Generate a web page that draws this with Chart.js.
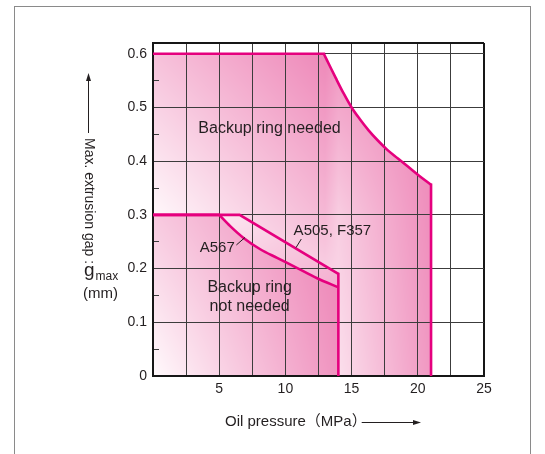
<!DOCTYPE html>
<html>
<head>
<meta charset="utf-8">
<script src="https://cdn.jsdelivr.net/npm/chart.js@4.4.1/dist/chart.umd.min.js"></script>
<style>
html,body{margin:0;padding:0;background:#fff;}
canvas{display:block;}
</style>
</head>
<body>
<canvas id="c" width="545" height="454"></canvas>
<script>
// ---------------- data ----------------
const xGridValues = [0, 2.5, 5, 7.5, 10, 12.5, 15, 17.5, 20, 22.5, 25];
const xTickValues = [5, 10, 15, 20, 25];
const xTickLabels = ['5', '10', '15', '20', '25'];
const yTickValues = [0, 0.1, 0.2, 0.3, 0.4, 0.5, 0.6];
const yTickLabels = ['0', '0.1', '0.2', '0.3', '0.4', '0.5', '0.6'];
const yMinorTickValues = [0.05, 0.15, 0.25, 0.35, 0.45, 0.55];
const xMin = 0, xMax = 25, yMin = 0, yMax = 0.62;

// "Backup ring needed" boundary
const needTopX = [0, 13.0];
const needTopY = [0.6, 0.6];
const needCurveX = [12.9, 13.3, 13.8, 14.4, 15.0, 15.6, 16.3, 17.0, 17.7, 18.5, 19.3, 20.1, 21];
const needCurveY = [0.6, 0.58, 0.555, 0.526, 0.5, 0.479, 0.457, 0.438, 0.421, 0.405, 0.389, 0.373, 0.356];
const needEdgeX = [21, 21];
const needEdgeY = [0.356, 0];

// A505, F357 boundary
const a505X = [0, 6.54, 14];
const a505Y = [0.3, 0.3, 0.19];
const a505EdgeX = [14, 14];
const a505EdgeY = [0.19, 0];

// A567 boundary
const a567TopX = [0, 5.05];
const a567TopY = [0.3, 0.3];
const a567CurveX = [5, 5.83, 6.84, 8.1, 9.37, 10.9, 12.4, 14];
const a567CurveY = [0.3, 0.279, 0.257, 0.236, 0.22, 0.201, 0.182, 0.165];

const xTitle = 'Oil pressure（MPa）';
const yTitle = 'Max. extrusion gap :';

// ---------------- style ----------------
const FONT = "'Liberation Sans', Arial, Helvetica, 'Noto Sans CJK JP', sans-serif";
const TEXT = '#231f20';
const LINE = '#e5007e';
const GRID = '#3c3c3c';
const FRAME = '#161616';
const C0 = [255, 250, 252], C1 = [237, 130, 181];

function seg(arr, v) {
  let i = 0;
  while (i < arr.length - 2 && v > arr[i + 1]) i++;
  let f = (v - arr[i]) / (arr[i + 1] - arr[i]);
  return [i, Math.max(0, Math.min(1, f))];
}
function bilinear(cols, rows, vals, x, y) {
  const [i, fx] = seg(cols, x);
  const [j, fy] = seg(rows, y);
  const a = vals[j][i] + (vals[j][i + 1] - vals[j][i]) * fx;
  const b = vals[j + 1][i] + (vals[j + 1][i + 1] - vals[j + 1][i]) * fx;
  return Math.max(0, Math.min(1, a + (b - a) * fy));
}
const shadeCache = {};
function shade(key, cols, rows, vals) {
  return (context) => {
    const chart = context.chart;
    const area = chart.chartArea;
    if (!area || !chart.scales.x || !chart.scales.y) return 'rgba(0,0,0,0)';
    const sig = key + [area.left, area.top, area.right, area.bottom].join(',');
    if (shadeCache[sig]) return shadeCache[sig];
    const W = Math.ceil(chart.width), H = Math.ceil(chart.height);
    const cv = document.createElement('canvas');
    cv.width = W; cv.height = H;
    const g = cv.getContext('2d');
    const img = g.createImageData(W, H);
    const xs = chart.scales.x, ys = chart.scales.y;
    for (let py = 0; py < H; py++) {
      const yv = ys.getValueForPixel(py + 0.5);
      for (let px = 0; px < W; px++) {
        const xv = xs.getValueForPixel(px + 0.5);
        const t = bilinear(cols, rows, vals, xv, yv);
        const k = (py * W + px) * 4;
        img.data[k] = C0[0] + (C1[0] - C0[0]) * t;
        img.data[k + 1] = C0[1] + (C1[1] - C0[1]) * t;
        img.data[k + 2] = C0[2] + (C1[2] - C0[2]) * t;
        img.data[k + 3] = 255;
      }
    }
    g.putImageData(img, 0, 0);
    const pat = chart.ctx.createPattern(cv, 'no-repeat');
    shadeCache[sig] = pat;
    return pat;
  };
}
const needShade = shade('need', [0, 13, 14, 21], [0, 0.3, 0.62],
  [[0, 0, 0.22, 0.82], [0.02, 0.55, 0.38, 0.9], [0.5, 0.97, 0.86, 0.97]]);
const a505Shade = shade('a505', [5, 14], [0.15, 0.3], [[0.4, 0.65], [0.15, 0.45]]);
const a567Shade = shade('a567', [0, 14], [0, 0.3], [[0, 0.85], [0.4, 1.0]]);

function ds(xs, ys, extra) {
  return Object.assign({
    data: xs.map((x, i) => ({x: x, y: ys[i]})),
    borderColor: LINE, borderWidth: 2.6, pointRadius: 0, pointHoverRadius: 0,
    tension: 0, fill: false, borderJoinStyle: 'miter', borderCapStyle: 'butt'
  }, extra);
}

const datasets = [
  ds(needTopX, needTopY, {fill: 'origin', backgroundColor: needShade, order: 6}),
  ds(needCurveX, needCurveY, {fill: 'origin', backgroundColor: needShade, order: 6, cubicInterpolationMode: 'monotone'}),
  ds(needEdgeX, needEdgeY, {order: 6, borderCapStyle: 'square'}),
  ds(a505X, a505Y, {fill: 'origin', backgroundColor: a505Shade, order: 4}),
  ds(a505EdgeX, a505EdgeY, {order: 4, borderCapStyle: 'square'}),
  ds(a567TopX, a567TopY, {fill: 'origin', backgroundColor: a567Shade, order: 2}),
  ds(a567CurveX, a567CurveY, {fill: 'origin', backgroundColor: a567Shade, order: 2, cubicInterpolationMode: 'monotone'})
];

// annotation text anchored in data coordinates
const notes = [
  {text: 'Backup ring needed', x: 8.8, y: 0.46, size: 16},
  {text: 'A505, F357', x: 13.55, y: 0.27, size: 15},
  {text: 'A567', x: 4.85, y: 0.239, size: 15},
  {text: 'Backup ring', x: 7.3, y: 0.164, size: 16},
  {text: 'not needed', x: 7.3, y: 0.13, size: 16}
];
const leaders = [
  {x1: 11.2, y1: 0.255, x2: 10.8, y2: 0.239},
  {x1: 6.3, y1: 0.244, x2: 6.95, y2: 0.258}
];

const decor = {
  id: 'decor',
  beforeDraw(chart) {
    const ctx = chart.ctx;
    ctx.save();
    ctx.strokeStyle = '#8a8a8a';
    ctx.lineWidth = 1;
    ctx.strokeRect(14.5, 6.5, 516, 520);
    ctx.restore();
  },
  afterDraw(chart) {
    const ctx = chart.ctx;
    const x = chart.scales.x, y = chart.scales.y;
    ctx.save();
    ctx.fillStyle = TEXT;
    ctx.strokeStyle = TEXT;
    ctx.textAlign = 'center';
    ctx.textBaseline = 'middle';
    notes.forEach(n => {
      ctx.font = n.size + 'px ' + FONT;
      ctx.fillText(n.text, x.getPixelForValue(n.x), y.getPixelForValue(n.y));
    });
    ctx.lineWidth = 1;
    leaders.forEach(l => {
      ctx.beginPath();
      ctx.moveTo(x.getPixelForValue(l.x1), y.getPixelForValue(l.y1));
      ctx.lineTo(x.getPixelForValue(l.x2), y.getPixelForValue(l.y2));
      ctx.stroke();
    });

    // x title with arrow
    ctx.font = '15px ' + FONT;
    ctx.textAlign = 'left';
    ctx.fillText(xTitle, 225, 422);
    const w = ctx.measureText(xTitle).width;
    const ax0 = 225 + w - 5, ax1 = 421;
    ctx.beginPath();
    ctx.moveTo(ax0, 422.5); ctx.lineTo(ax1 - 6, 422.5); ctx.stroke();
    ctx.beginPath();
    ctx.moveTo(ax1, 422.5); ctx.lineTo(ax1 - 8, 420); ctx.lineTo(ax1 - 8, 425); ctx.closePath(); ctx.fill();

    // y title, rotated clockwise, with arrow above
    ctx.save();
    ctx.translate(89, 201);
    ctx.rotate(Math.PI / 2);
    ctx.font = '14px ' + FONT;
    ctx.textAlign = 'center';
    ctx.fillText(yTitle, 0, 0);
    ctx.restore();
    ctx.beginPath();
    ctx.moveTo(88.5, 133); ctx.lineTo(88.5, 80); ctx.stroke();
    ctx.beginPath();
    ctx.moveTo(88.5, 73); ctx.lineTo(86, 81); ctx.lineTo(91, 81); ctx.closePath(); ctx.fill();

    // g_max (mm)
    ctx.textAlign = 'left';
    ctx.textBaseline = 'alphabetic';
    ctx.font = '19px ' + FONT;
    ctx.fillText('g', 84, 276);
    const gw = ctx.measureText('g').width;
    ctx.font = '12px ' + FONT;
    ctx.fillText('max', 84 + gw + 1, 280);
    ctx.font = '15px ' + FONT;
    ctx.textBaseline = 'middle';
    ctx.fillText('(mm)', 83, 294);
    ctx.restore();
  }
};

new Chart(document.getElementById('c'), {
  type: 'line',
  data: {datasets: datasets},
  options: {
    responsive: false,
    animation: false,
    layout: {padding: {left: 0, right: 61, top: 43, bottom: 0}},
    plugins: {
      legend: {display: false},
      tooltip: {enabled: false},
      filler: {drawTime: 'beforeDraw'}
    },
    scales: {
      x: {
        type: 'linear', min: xMin, max: xMax,
        afterBuildTicks: s => { s.ticks = xGridValues.map(v => ({value: v})); },
        afterFit: s => { s.height = 78; },
        grid: {
          drawTicks: false,
          color: c => (c.tick && c.tick.value === xMin) ? 'rgba(0,0,0,0)' : (c.tick && c.tick.value === xMax ? FRAME : GRID),
          lineWidth: c => (c.tick && c.tick.value === xMax) ? 2 : 1
        },
        border: {display: true, color: FRAME, width: 2},
        ticks: {
          padding: 5, color: TEXT, autoSkip: false, maxRotation: 0,
          font: {family: FONT, size: 14},
          callback: v => { const k = xTickValues.indexOf(v); return k >= 0 ? xTickLabels[k] : ''; }
        }
      },
      y: {
        type: 'linear', min: yMin, max: yMax,
        afterBuildTicks: s => { s.ticks = yTickValues.concat([yMax]).map(v => ({value: v})); },
        afterFit: s => { s.width = 153; },
        grid: {
          drawTicks: false,
          color: c => (c.tick && c.tick.value === yMin) ? 'rgba(0,0,0,0)' : (c.tick && c.tick.value === yMax ? FRAME : GRID),
          lineWidth: c => (c.tick && c.tick.value === yMax) ? 2 : 1
        },
        border: {display: true, color: FRAME, width: 2},
        ticks: {
          padding: 6, color: TEXT, autoSkip: false,
          font: {family: FONT, size: 14},
          callback: v => { const k = yTickValues.indexOf(v); return k >= 0 ? yTickLabels[k] : ''; }
        }
      },
      y2: {
        type: 'linear', min: yMin, max: yMax, position: {x: 0.45},
        afterBuildTicks: s => { s.ticks = yMinorTickValues.map(v => ({value: v})); },
        grid: {drawOnChartArea: false, drawTicks: true, tickLength: 6, tickColor: GRID, tickWidth: 1},
        border: {display: false},
        ticks: {display: false}
      }
    }
  },
  plugins: [decor]
});
</script>
</body>
</html>
